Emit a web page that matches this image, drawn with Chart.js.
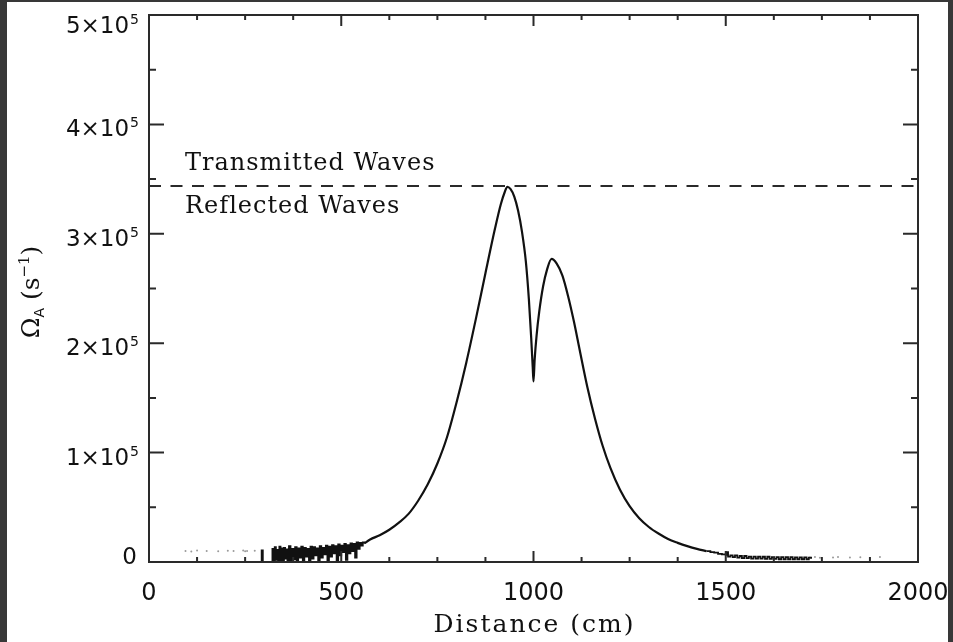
<!DOCTYPE html>
<html><head><meta charset="utf-8">
<script src="https://cdn.jsdelivr.net/npm/chart.js@4/dist/chart.umd.min.js"></script>
<style>html,body{margin:0;padding:0;background:#fff;}#wrap{width:953px;height:642px;}</style>
</head><body><div id="wrap"><canvas id="c" width="953" height="642"></canvas></div>
<script>
// Distance (cm) and Alfven frequency Omega_A (s^-1)
// noisy low-frequency part on the left
const noiseLeftDistance = [
 289,293,296,318,321,324,327,330,333,336,339,342,345,348,351,354,357,360,364,368,372,376,380,384,388,392,396,400,
 404,408,412,416,420,424,428,432,436,440,444,448,452,456,460,464,468,472,476,480,484,488,492,496,500,504,508,512,
 516,520,524,528,532,536,540,544,548,552,556,560
];
const noiseLeftOmega = [
 0,10500,0,0,12000,0,13500,2000,11000,0,14000,1000,12500,0,13000,3000,11500,0,14500,0,12000,2500,13500,0,12500,4000,14000,0,
 13000,5000,12000,0,14000,3000,13500,6000,12500,0,14500,4000,13000,7000,15000,0,14000,5000,15500,8000,14500,0,16000,6000,15000,9000,16500,2000,
 15500,8000,17000,10000,16500,4000,18000,12000,17500,15000,18000,17000
];
// smooth main profile
const curveDistance = [
 560,575,600,625,650,675,700,725,750,775,800,825,850,875,900,915,925,932,940,950,960,970,980,988,994,998,1000,
 1003,1008,1015,1025,1035,1047,1060,1075,1090,1105,1120,1140,1160,1180,1200,1225,1250,1275,1300,1325,1350,1375,
 1400,1425,1450
];
const curveOmega = [
 17000,20500,24500,29500,36000,44000,56000,71000,90000,114000,146000,182000,222000,264000,305000,327000,338000,343000,341000,334000,321000,302000,275000,240000,205000,178000,165000,
 185000,207000,229000,252000,267000,277000,273000,262000,243000,220000,194000,160000,131000,106000,86000,66000,51000,40000,32000,26000,21000,17500,
 14500,12000,10000
];
// noisy tail on the right
const noiseRightDistance = [
 1450,1460,1470,1480,1490,1500,1503,1506,1512,1518,1524,1530,1536,1542,1548,1554,1560,1566,1572,1578,1584,1590,
 1596,1602,1608,1614,1620,1626,1632,1638,1644,1650,1656,1662,1668,1674,1680,1686,1692,1698,1704,1710,1716,1722
];
const noiseRightOmega = [
 10000,9000,8500,7500,7000,6500,9000,5000,6000,4500,6000,4000,5500,3500,5500,3500,5000,3000,5000,3000,5000,3000,
 4800,2800,4800,2800,4500,2800,4500,2500,4500,2500,4500,2500,4500,2500,4200,2500,4200,2500,4200,2500,4000,3000
];
// faint isolated points at both ends
const dotDistance = [95,110,125,150,180,205,220,245,250,255,275,1719,1732,1745,1779,1792,1823,1850,1901];
const dotOmega = [10000,9500,10500,10000,9800,10200,10000,10500,9800,10000,10300,4000,4500,3800,4200,4600,4000,4300,4500];
// boundary between transmitted and reflected waves
const boundaryOmega = 343700;
const boundaryDistance = [0, 2000];

const xMajor = [0,500,1000,1500,2000];
const xMinor = [125,250,375,625,750,875,1125,1250,1375,1625,1750,1875];
const yMajor = [0,100000,200000,300000,400000,500000];
const yMinor = [50000,150000,250000,350000,450000];
const yLabelMant = ['0','1','2','3','4','5'];
const xTitle = 'Distance (cm)';
const regionLabels = ['Transmitted Waves','Reflected Waves'];

const ink = '#2a2a2a';
const serif = 'DejaVu Serif';
const sans = 'DejaVu Sans';

const framePlugin = {
  id: 'frame',
  afterDraw(chart) {
    const ctx = chart.ctx, a = chart.chartArea;
    const xs = chart.scales.x, ys = chart.scales.y;
    ctx.save();
    ctx.strokeStyle = ink; ctx.lineWidth = 2;
    ctx.strokeRect(a.left, a.top, a.right - a.left, a.bottom - a.top);
    ctx.beginPath();
    const xt = (v, L) => { const p = xs.getPixelForValue(v); ctx.moveTo(p, a.bottom); ctx.lineTo(p, a.bottom - L); ctx.moveTo(p, a.top); ctx.lineTo(p, a.top + L); };
    const yt = (v, L) => { const p = ys.getPixelForValue(v); ctx.moveTo(a.left, p); ctx.lineTo(a.left + L, p); ctx.moveTo(a.right, p); ctx.lineTo(a.right - L, p); };
    xMajor.forEach(v => xt(v, 11)); xMinor.forEach(v => xt(v, 5));
    yMajor.forEach(v => yt(v, 15)); yMinor.forEach(v => yt(v, 7));
    ctx.stroke();

    ctx.fillStyle = '#111';
    // x tick labels
    ctx.font = '24px ' + sans; ctx.textAlign = 'center'; ctx.textBaseline = 'alphabetic';
    xMajor.forEach(v => ctx.fillText(String(v), xs.getPixelForValue(v), a.bottom + 38));
    // y tick labels
    yMajor.forEach((v, i) => {
      const p = ys.getPixelForValue(v);
      if (v === 0) {
        ctx.font = '23px ' + sans; ctx.textAlign = 'right';
        ctx.fillText('0', 137, p + 2);
        return;
      }
      const base = Math.max(p + 12, 33);
      ctx.font = '14px ' + sans; ctx.textAlign = 'right';
      ctx.fillText('5', 139, base - 9);
      const w = ctx.measureText('5').width;
      ctx.font = '23px ' + sans;
      ctx.fillText(yLabelMant[i] + '\u00d710', 139 - w - 1, base);
    });
    // x title
    ctx.font = '25px ' + serif; ctx.textAlign = 'center';
    ctx.letterSpacing = '2px';
    ctx.fillText(xTitle, (a.left + a.right) / 2 + 1, 632);
    // region labels
    ctx.font = '24px ' + serif; ctx.textAlign = 'left';
    ctx.letterSpacing = '1px';
    ctx.fillText(regionLabels[0], 185, 170);
    ctx.fillText(regionLabels[1], 185, 213);
    ctx.letterSpacing = '0px';
    // y title, rotated
    ctx.save();
    ctx.translate(39, 292); ctx.rotate(-Math.PI / 2);
    const parts = [
      {t: '\u03a9', f: '25px ' + serif, dy: 0},
      {t: 'A', f: '14px ' + sans, dy: 5},
      {t: ' (s', f: '25px ' + serif, dy: 0},
      {t: '\u22121', f: '15px ' + serif, dy: -10},
      {t: ')', f: '25px ' + serif, dy: 0}
    ];
    let tw = 0;
    parts.forEach(q => { ctx.font = q.f; q.w = ctx.measureText(q.t).width; tw += q.w; });
    let x0 = -tw / 2;
    parts.forEach(q => { ctx.font = q.f; ctx.textAlign = 'left'; ctx.fillText(q.t, x0, q.dy); x0 += q.w; });
    ctx.restore();

    // dark frame of the picture
    ctx.fillStyle = '#383838';
    ctx.fillRect(0, 0, 7, 642);
    ctx.fillRect(0, 0, 953, 2);
    ctx.fillRect(948, 0, 5, 642);
    ctx.restore();
  }
};

const pts = (xs, ys) => xs.map((d, i) => ({x: d, y: ys[i]}));

new Chart(document.getElementById('c'), {
  type: 'line',
  data: {
    datasets: [
      {
        data: pts(boundaryDistance, [boundaryOmega, boundaryOmega]),
        borderColor: ink, borderWidth: 2, borderDash: [12, 9.5], pointRadius: 0, tension: 0
      },
      {
        data: pts(noiseLeftDistance, noiseLeftOmega),
        borderColor: '#111', borderWidth: 1.8, pointRadius: 0, stepped: true
      },
      {
        data: pts(curveDistance, curveOmega),
        borderColor: '#111', borderWidth: 2.2, pointRadius: 0, cubicInterpolationMode: 'monotone'
      },
      {
        data: pts(noiseRightDistance, noiseRightOmega),
        borderColor: '#111', borderWidth: 1.8, pointRadius: 0, stepped: true
      },
      {
        data: pts(dotDistance, dotOmega),
        showLine: false, pointRadius: 1, pointBorderWidth: 0, pointBackgroundColor: '#9a9a9a'
      }
    ]
  },
  options: {
    responsive: false, animation: false, devicePixelRatio: 1,
    layout: {padding: {left: 149, top: 15, right: 35, bottom: 80}},
    plugins: {legend: {display: false}, tooltip: {enabled: false}},
    scales: {
      x: {type: 'linear', min: 0, max: 2000, display: false},
      y: {type: 'linear', min: 0, max: 500000, display: false}
    }
  },
  plugins: [framePlugin]
});
</script>
</body></html>
